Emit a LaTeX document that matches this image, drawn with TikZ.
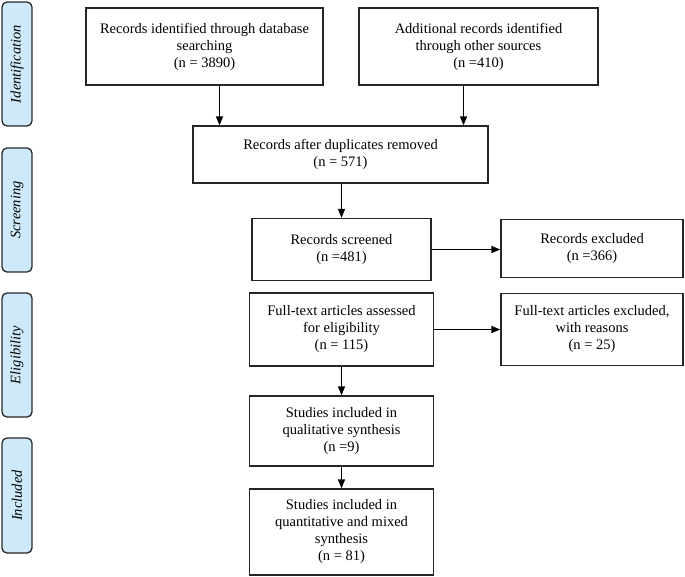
\documentclass[tikz,border=0pt]{standalone}
\usepackage{fontspec}
\setmainfont{Liberation Serif}
\usetikzlibrary{arrows.meta}
\definecolor{sidefill}{RGB}{206,234,250}
\definecolor{sidedraw}{RGB}{40,40,40}
\begin{document}
\begin{tikzpicture}[x=1pt,y=-1pt,
  box/.style={draw=black!85,line width=1.3pt,align=center,inner sep=0pt,
    font=\fontsize{14.5}{17}\selectfont},
  side/.style={draw=sidedraw,fill=sidefill,line width=1.3pt,rounded corners=5pt,
    minimum width=30pt,inner sep=0pt},
  sidetext/.style={rotate=90,font=\fontsize{14.5}{17}\selectfont\itshape},
  arr/.style={line width=1.5pt,-{Triangle[length=9pt,width=7pt]}}]
\useasboundingbox (0,0) rectangle (685,576);
% side labels
\node[side,minimum height=124pt] (sid) at (17,64) {};
\node[sidetext] (tid) at (sid) {Identification};
\node[side,minimum height=124pt] (ssc) at (17,210) {};
\node[sidetext] (tsc) at (ssc) {Screening};
\node[side,minimum height=124pt] (sel) at (17,355) {};
\node[sidetext] (tel) at (sel) {Eligibility};
\node[side,minimum height=115pt] (sin) at (17,495.5) {};
\node[sidetext] (tin) at (sin) {Included};
% boxes
\node[box,minimum width=237pt,minimum height=77pt] (b1) at (204.5,46.5)
  {Records identified through database\\searching\\(n = 3890)};
\node[box,minimum width=239pt,minimum height=77pt] (b2) at (478.5,46.5)
  {Additional records identified\\through other sources\\(n =410)};
\node[box,minimum width=295pt,minimum height=57pt] (b3) at (340.5,154.5)
  {Records after duplicates removed\\(n = 571)};
\node[box,minimum width=179pt,minimum height=62pt] (b4) at (341.5,249.5)
  {Records screened\\(n =481)};
\node[box,minimum width=184pt,minimum height=73pt] (b5) at (341.5,329.5)
  {Full-text articles assessed\\for eligibility\\(n = 115)};
\node[box,minimum width=184pt,minimum height=70pt] (b6) at (341.5,431)
  {Studies included in\\qualitative synthesis\\(n =9)};
\node[box,minimum width=184pt,minimum height=86pt] (b7) at (341.5,532)
  {Studies included in\\quantitative and mixed\\synthesis\\(n = 81)};
\node[box,minimum width=182pt,minimum height=58pt] (e1) at (592,248.5)
  {Records excluded\\(n =366)};
\node[box,minimum width=182pt,minimum height=72pt] (e2) at (592,329.5)
  {Full-text articles excluded,\\with reasons\\(n = 25)};
% arrows
\draw[arr] ([xshift=15pt]b1.south) coordinate (t1) -- (t1 |- b3.north);
\draw[arr] ([xshift=-15pt]b2.south) coordinate (t2) -- (t2 |- b3.north);
\draw[arr] (b4.north |- b3.south) -- (b4.north);
\draw[arr] (b5.south) -- (b5.south |- b6.north);
\draw[arr] (b6.south) -- (b6.south |- b7.north);
\draw[arr] (b4.east) -- (b4.east -| e1.west);
\draw[arr] (b5.east) -- (b5.east -| e2.west);
\end{tikzpicture}
\end{document}
